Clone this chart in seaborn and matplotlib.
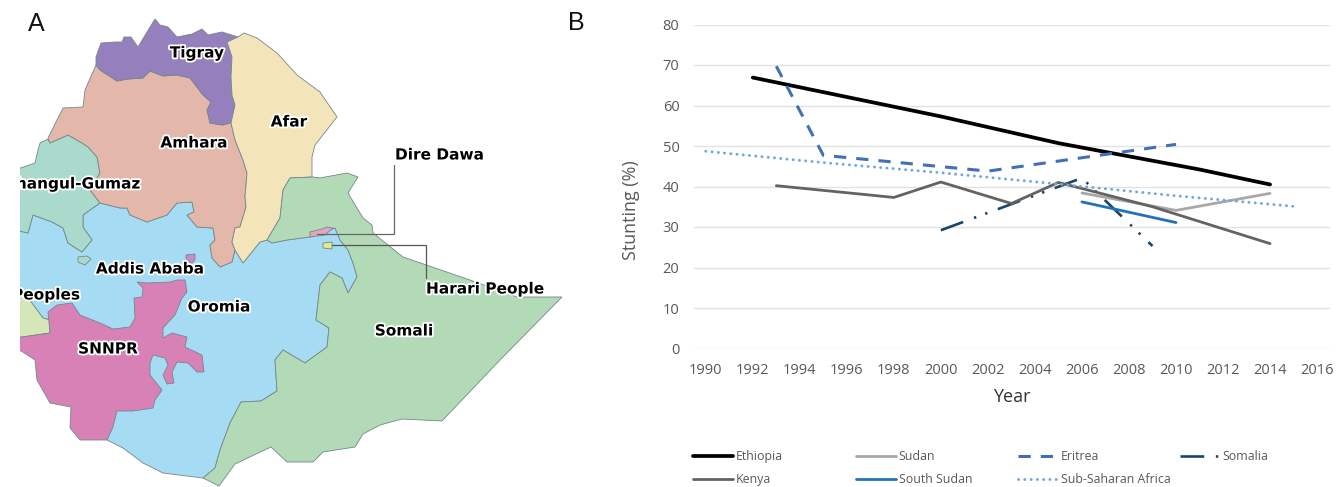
import matplotlib
matplotlib.use('Agg')
import matplotlib.pyplot as plt
import matplotlib.patheffects as pe
from matplotlib.lines import Line2D
import seaborn as sns

# line chart values
ethiopia_years = [1992, 2000, 2005, 2011, 2014]
ethiopia = [66.9, 57.3, 50.7, 44.2, 40.5]
sudan_years = [2006, 2010, 2014]
sudan = [38.4, 34.1, 38.3]
eritrea_years = [1993, 1995, 2002, 2010]
eritrea = [69.7, 47.7, 43.8, 50.4]
somalia_years = [2000, 2006, 2009]
somalia = [29.2, 42.1, 25.3]
kenya_years = [1993, 1998, 2000, 2003, 2005, 2009, 2014]
kenya = [40.2, 37.3, 41.1, 35.8, 41.0, 35.0, 25.9]
south_sudan_years = [2006, 2010]
south_sudan = [36.2, 31.1]
ssa_years = [1990, 1995, 2000, 2005, 2010, 2015]
ssa = [48.7, 45.9, 43.4, 40.6, 37.7, 35.1]
x_ticks = list(range(1990, 2017, 2))
y_ticks = list(range(0, 81, 10))

# map outlines, traced in image pixels
oromia_xy = [(15, 230), (28, 233), (33, 215), (52, 222), (63, 228), (68, 243), (82, 252), (92, 240), (83, 227),
             (83, 215), (100, 203), (120, 208), (127, 208), (130, 215), (147, 222), (167, 215), (177, 203),
             (192, 202), (194, 212), (187, 215), (197, 227), (213, 228), (215, 240), (210, 245), (212, 258),
             (220, 267), (232, 262), (235, 250), (238, 255), (243, 263), (260, 242), (267, 240), (272, 243),
             (287, 240), (310, 237), (335, 228), (340, 240), (348, 250), (353, 263), (357, 277), (348, 293),
             (342, 278), (330, 272), (320, 285), (316, 320), (329, 328), (327, 347), (305, 363), (283, 350),
             (275, 360), (277, 391), (261, 401), (241, 402), (230, 423), (220, 450), (215, 468), (203, 478),
             (163, 473), (143, 463), (123, 448), (107, 440), (110, 360), (60, 330), (50, 320), (43, 318), (15, 282)]
benishangul_xy = [(15, 170), (35, 163), (38, 150), (40, 143), (48, 139), (50, 143), (68, 135), (82, 143), (88, 147),
                  (97, 157), (100, 173), (90, 190), (100, 203), (83, 215), (83, 227), (92, 240), (82, 252), (68, 243),
                  (63, 228), (52, 222), (33, 215), (28, 233), (15, 230)]
amhara_xy = [(96, 65), (100, 70), (117, 81), (128, 79), (143, 78), (150, 71), (163, 76), (177, 75), (190, 78), (203, 95),
             (211, 102), (207, 110), (210, 123), (222, 125), (231, 123), (235, 140), (243, 160), (247, 173), (245, 197),
             (246, 207), (240, 227), (235, 228), (232, 242), (235, 250), (232, 262), (220, 267), (212, 258), (210, 245),
             (215, 240), (213, 228), (197, 227), (187, 215), (194, 212), (192, 202), (177, 203), (167, 215), (147, 222),
             (130, 215), (127, 208), (120, 208), (100, 203), (90, 190), (100, 173), (97, 157), (88, 147), (82, 143),
             (68, 135), (50, 143), (48, 138), (63, 108), (83, 107), (85, 90)]
tigray_xy = [(96, 65), (96, 57), (101, 43), (115, 42), (122, 42), (124, 37), (131, 37), (138, 47), (147, 32), (155, 19),
             (160, 25), (168, 27), (177, 37), (192, 34), (202, 29), (208, 35), (222, 32), (238, 37), (227, 42), (232, 57),
             (231, 77), (232, 95), (235, 105), (231, 123), (222, 125), (210, 123), (207, 110), (211, 102), (203, 95),
             (190, 78), (177, 75), (163, 76), (150, 71), (143, 78), (128, 79), (117, 81), (100, 70)]
afar_xy = [(227, 42), (238, 37), (244, 33), (257, 38), (277, 53), (297, 75), (320, 92), (337, 117), (315, 145), (312, 157),
           (312, 177), (290, 178), (283, 190), (280, 218), (267, 240), (260, 242), (243, 263), (238, 255), (235, 250),
           (232, 242), (235, 228), (240, 227), (246, 207), (245, 197), (247, 173), (243, 160), (235, 140), (231, 123),
           (235, 105), (232, 95), (231, 77), (232, 57)]
somali_xy = [(290, 178), (313, 177), (320, 178), (347, 173), (358, 177), (348, 193), (363, 218), (372, 225), (373, 233),
             (403, 257), (470, 280), (517, 297), (562, 297), (500, 360), (442, 421), (402, 419), (380, 425), (363, 434),
             (355, 447), (323, 452), (313, 462), (287, 462), (271, 447), (235, 464), (219, 486), (203, 478), (215, 468),
             (220, 450), (230, 423), (241, 402), (261, 401), (277, 391), (275, 360), (283, 350), (305, 363), (327, 347),
             (329, 328), (316, 320), (320, 285), (330, 272), (342, 278), (348, 293), (357, 277), (353, 263), (348, 250),
             (340, 240), (335, 228), (310, 237), (287, 240), (272, 243), (267, 240), (280, 218), (283, 190)]
gambela_xy = [(15, 280), (43, 318), (50, 320), (50, 333), (15, 338)]
snnpr_xy = [(15, 338), (50, 333), (48, 312), (57, 305), (72, 303), (80, 315), (100, 323), (113, 329), (130, 327), (135, 318),
            (134, 298), (142, 297), (143, 288), (137, 282), (147, 283), (170, 282), (177, 280), (185, 280), (187, 292),
            (182, 298), (175, 315), (163, 328), (163, 338), (172, 333), (187, 337), (185, 347), (202, 355), (204, 372),
            (197, 372), (188, 363), (177, 362), (172, 372), (174, 383), (167, 384), (163, 375), (168, 365), (165, 358),
            (153, 355), (150, 363), (150, 375), (162, 390), (155, 400), (153, 408), (133, 411), (117, 411), (113, 427),
            (107, 440), (80, 440), (70, 428), (71, 407), (50, 403), (37, 380), (35, 360), (15, 347)]
addis_xy = [(186, 255), (195, 254), (195, 260), (191, 264), (186, 258)]
dire_dawa_xy = [(310, 232), (322, 229), (327, 227), (333, 228), (325, 235), (310, 237)]
harari_xy = [(323, 243), (332, 242), (332, 249), (323, 248)]
islet_xy = [(78, 257), (87, 256), (91, 259), (85, 265), (78, 262)]

dire_dawa_line_x = [317, 394, 394]
dire_dawa_line_y = [234, 234, 165]
harari_line_x = [332, 426, 426]
harari_line_y = [245, 245, 278]

sns.set_theme(style='whitegrid')
plt.rcParams['font.family'] = ['Open Sans', 'DejaVu Sans']

W, H = 1344, 487
fig = plt.figure(figsize=(W / 100, H / 100), dpi=100)

# panel A
ax_map = fig.add_axes([20 / W, 0, 550 / W, 1])
ax_map.set_xlim(20, 570)
ax_map.set_ylim(H, 0)
ax_map.axis('off')

regions = [(oromia_xy, '#a6dcf3'), (benishangul_xy, '#a9dacb'), (amhara_xy, '#e3b8aa'), (tigray_xy, '#9580bd'),
           (afar_xy, '#f3e5b9'), (somali_xy, '#b3dab6'), (gambela_xy, '#d5e6b8'), (snnpr_xy, '#d881b6'),
           (addis_xy, '#c98ac8'), (dire_dawa_xy, '#e3a6c0'), (harari_xy, '#e8e68c'), (islet_xy, '#a9dacb')]
for xy, colour in regions:
    ax_map.fill([p[0] for p in xy], [p[1] for p in xy], facecolor=colour, edgecolor='#74878a', linewidth=0.6)

ax_map.plot(dire_dawa_line_x, dire_dawa_line_y, color='#666666', lw=0.9)
ax_map.plot(harari_line_x, harari_line_y, color='#555555', lw=0.9)

outline = [pe.withStroke(linewidth=2.6, foreground='white')]
labels = [('Tigray', 197, 53, 'center'), ('Amhara', 194, 143, 'center'), ('Afar', 289, 122, 'center'),
          ('Benishangul-Gumaz', 141, 184, 'right'), ('Dire Dawa', 395, 155, 'left'), ('Addis Ababa', 150, 269, 'center'),
          ('Gambela Peoples', 80, 295, 'right'), ('Oromia', 219, 307, 'center'), ('SNNPR', 108, 349, 'center'),
          ('Somali', 404, 331, 'center'), ('Harari People', 426, 289, 'left')]
for name, px, py, align in labels:
    ax_map.text(px, py, name, ha=align, va='center', family='DejaVu Sans', weight='bold', fontsize=11.05,
                color='black', path_effects=outline, clip_on=True)

fig.text(36 / W, 1 - 24 / H, 'A', family='Liberation Sans', fontsize=18, ha='center', va='center', color='#111111')
fig.text(576 / W, 1 - 23 / H, 'B', family='Liberation Sans', fontsize=18, ha='center', va='center', color='#111111')

# panel B
ax = fig.add_axes([694 / W, 1 - 348.5 / H, 636 / W, 324 / H])
ax.set_facecolor('white')

series = [
    ('Ethiopia', ethiopia_years, ethiopia, dict(color='black', lw=2.7, linestyle='-')),
    ('Sudan', sudan_years, sudan, dict(color='#aaa7a7', lw=2.0, linestyle='-')),
    ('Eritrea', eritrea_years, eritrea, dict(color='#4170b8', lw=2.2, linestyle=(0, (4, 3.3)))),
    ('Somalia', somalia_years, somalia, dict(color='#1b4469', lw=1.9, linestyle=(0, (9, 4.4, 0.9, 3.6, 0.9, 4.2)))),
    ('Kenya', kenya_years, kenya, dict(color='#636363', lw=2.0, linestyle='-')),
    ('South Sudan', south_sudan_years, south_sudan, dict(color='#2272b5', lw=2.0, linestyle='-')),
    ('Sub-Saharan Africa', ssa_years, ssa, dict(color='#6fa8dc', lw=2.1, linestyle=(0, (0.05, 2.1)), dash_capstyle='round')),
]
for name, xs, ys, style in series:
    sns.lineplot(x=xs, y=ys, ax=ax, legend=False, errorbar=None, **style)

ax.set_xlim(1989.5, 2016.55)
ax.set_ylim(0, 80)
ax.set_xticks(x_ticks)
ax.set_yticks(y_ticks)
ax.grid(axis='x', visible=False)
ax.grid(axis='y', color='#e2e2e2', lw=1.0)
ax.set_axisbelow(True)
sns.despine(ax=ax, left=True, bottom=True, top=True, right=True)
ax.tick_params(axis='y', length=0, pad=10.5, labelsize=10.5, labelcolor='#595959')
ax.tick_params(axis='x', length=0, pad=10.5, labelsize=10.5, labelcolor='#595959')
ax.set_xlabel('Year', fontsize=13, color='#333333', labelpad=7)
ax.set_ylabel('Stunting (%)', fontsize=12.9, color='#595959')
ax.yaxis.set_label_coords(-0.085, 0.427)

# four separate legend columns so they start at the same spacing as the reference
style_by_name = {s[0]: s[3] for s in series}
columns = [(693, ['Ethiopia', 'Kenya']), (856, ['Sudan', 'South Sudan']),
           (1018, ['Eritrea', 'Sub-Saharan Africa']), (1180, ['Somalia'])]
for col_x, names in columns:
    handles = [Line2D([], [], **style_by_name[n]) for n in names]
    fig.legend(handles, names, loc='upper left', bbox_to_anchor=(col_x / W, 1 - 450 / H), ncol=1, frameon=False,
               fontsize=8.9, labelcolor='#595959', handlelength=3.2, handletextpad=0.25, borderpad=0, borderaxespad=0,
               labelspacing=0.8)

fig.savefig('out.png', dpi=100, facecolor='white')
